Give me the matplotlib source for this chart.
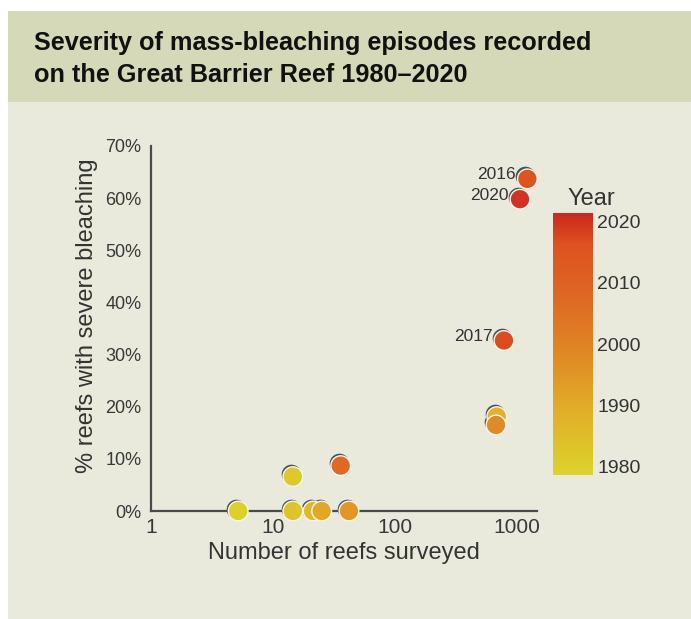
import matplotlib
matplotlib.use("Agg")
import matplotlib.pyplot as plt
import matplotlib.transforms as mtransforms
from matplotlib.colors import LinearSegmentedColormap, Normalize
from matplotlib.patches import Rectangle
import numpy as np

plt.rcParams['font.family'] = ['Liberation Sans', 'DejaVu Sans']

# data
#
years = [1980, 1982, 1983, 1986, 1991, 1995, 2008, 1988, 1998, 2017, 2016, 2020]
reefs = [5.2, 14.6, 14.6, 21.4, 25.2, 42.2, 36.1, 690, 680, 790, 1230, 1070]
pct_severe = [0, 6.6, 0, 0, 0, 0, 8.7, 18.1, 16.5, 32.7, 63.7, 59.8]
labelled = ['2016', '2020', '2017']

x_ticks = [1, 10, 100, 1000]
x_ticklabels = ['1', '10', '100', '1000']
y_ticks = [0, 10, 20, 30, 40, 50, 60, 70]
y_ticklabels = ['0%', '10%', '20%', '30%', '40%', '50%', '60%', '70%']
cbar_ticks = [1980, 1990, 2000, 2010, 2020]

# colours
#
band_col = '#d5d9b8'
panel_col = '#e9eadc'
cmap = LinearSegmentedColormap.from_list(
    'reef', [(0.0, '#dcd42c'), (0.26, '#e2ac28'), (0.49, '#e08424'),
             (0.73, '#de6224'), (0.88, '#e0521f'), (1.0, '#cc2820')])
norm = Normalize(vmin=1978.6, vmax=2021.4)

fig = plt.figure(figsize=(6.91, 6.19), dpi=100)
fig.patch.set_facecolor('white')

# panel + title band
fig.patches.append(Rectangle((8/691, 0), 1, (619-11)/619, transform=fig.transFigure,
                             facecolor=panel_col, edgecolor='none', zorder=-10))
fig.patches.append(Rectangle((8/691, 1-102/619), 1, 91/619, transform=fig.transFigure,
                             facecolor=band_col, edgecolor='none', zorder=-9))
fig.text(34/691, 1-43/619, 'Severity of mass-bleaching episodes recorded',
         fontsize=18.2, fontweight='bold', color='#111111', va='center', ha='left')
fig.text(34/691, 1-75/619, 'on the Great Barrier Reef 1980\u20132020',
         fontsize=18.2, fontweight='bold', color='#111111', va='center', ha='left')

# main axes
#
ax = fig.add_axes([151/691, 1-511/619, 386/691, 365/619])
ax.set_facecolor('none')
ax.set_xscale('log')
ax.set_xlim(1, 1476)
ax.set_ylim(0, 70)
for s in ['top', 'right']:
    ax.spines[s].set_visible(False)
for s in ['left', 'bottom']:
    ax.spines[s].set_color('#4a4a4a')
    ax.spines[s].set_linewidth(1.6)
ax.set_xticks(x_ticks)
ax.set_xticklabels(x_ticklabels)
ax.minorticks_off()
ax.set_yticks(y_ticks)
ax.set_yticklabels(y_ticklabels)
ax.tick_params(axis='x', length=0, pad=5, labelsize=15, labelcolor='#383838')
ax.tick_params(axis='y', length=0, pad=7, labelsize=13, labelcolor='#383838')
ax.set_xlabel('Number of reefs surveyed', fontsize=17, color='#333333', labelpad=4)
ax.set_ylabel('% reefs with severe bleaching', fontsize=17, color='#333333')
ax.yaxis.set_label_coords((98-151)/386, (511-316)/365)

# shadow behind each marker (offset up-left)
shadow = mtransforms.offset_copy(ax.transData, fig=fig, x=-2.0, y=2.5, units='dots')
ax.scatter(reefs, pct_severe, s=200, color='#505050', linewidths=0,
           transform=shadow, zorder=3, clip_on=False)
ax.scatter(reefs, pct_severe, s=200, c=years, cmap=cmap, norm=norm,
           edgecolors='#f6f6ee', linewidths=1.0, zorder=4, clip_on=False)

for yr, xv, yv in zip(years, reefs, pct_severe):
    if str(yr) in labelled:
        ax.annotate(str(yr), (xv, yv), xytext=(-8, 3), textcoords='offset points',
                    ha='right', va='center', fontsize=12.5, color='#333333')

# colorbar
#
cax = fig.add_axes([553/691, 1-475/619, 40/691, 262/619])
grad = np.linspace(norm.vmin, norm.vmax, 256).reshape(-1, 1)
cax.imshow(grad, aspect='auto', cmap=cmap, norm=norm, origin='lower',
           extent=[0, 1, norm.vmin, norm.vmax])
cax.set_xticks([])
cax.yaxis.tick_right()
cax.set_yticks(cbar_ticks)
cax.set_yticklabels([str(t) for t in cbar_ticks])
cax.tick_params(axis='y', length=0, pad=3, labelsize=14, labelcolor='#333333')
for s in cax.spines.values():
    s.set_visible(False)
cax.set_title('Year', fontsize=17, color='#333333', pad=6, x=0.95)

fig.savefig('out.png', dpi=100, facecolor=fig.get_facecolor())
